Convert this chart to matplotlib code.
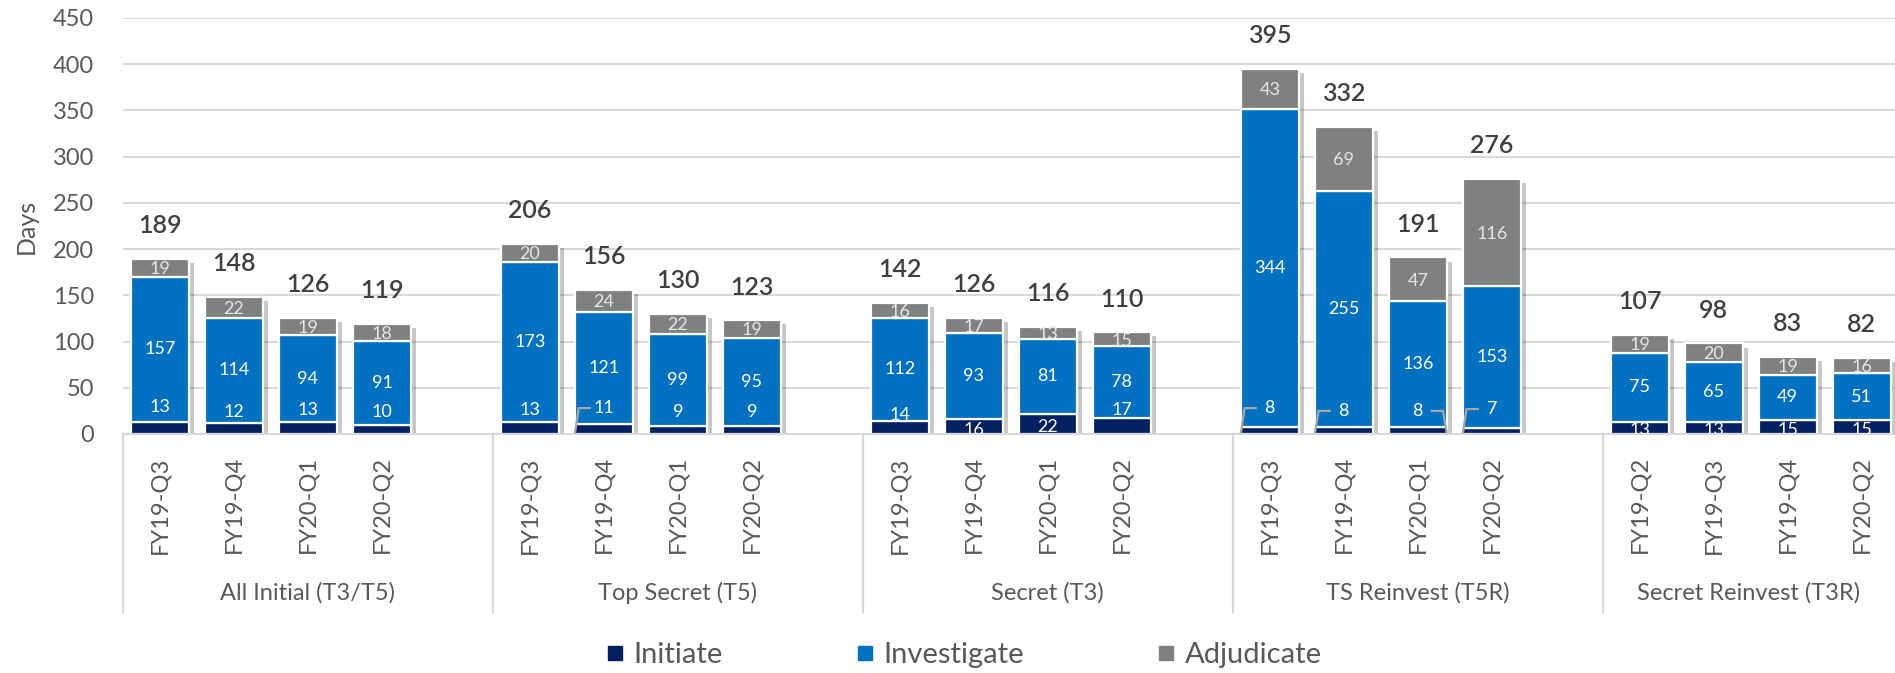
import matplotlib
matplotlib.use('Agg')
import matplotlib.pyplot as plt
import matplotlib.patheffects as pe
from matplotlib.lines import Line2D
from matplotlib.transforms import blended_transform_factory

# ---------------- data ----------------
groups = ['All Initial (T3/T5)', 'Top Secret (T5)', 'Secret (T3)',
          'TS Reinvest (T5R)', 'Secret Reinvest (T3R)']
quarters = [
    ['FY19-Q3', 'FY19-Q4', 'FY20-Q1', 'FY20-Q2'],
    ['FY19-Q3', 'FY19-Q4', 'FY20-Q1', 'FY20-Q2'],
    ['FY19-Q3', 'FY19-Q4', 'FY20-Q1', 'FY20-Q2'],
    ['FY19-Q3', 'FY19-Q4', 'FY20-Q1', 'FY20-Q2'],
    ['FY19-Q2', 'FY19-Q3', 'FY19-Q4', 'FY20-Q2'],
]
initiate = [13, 12, 13, 10, 13, 11, 9, 9, 14, 16, 22, 17, 8, 8, 8, 7, 13, 13, 15, 15]
investigate = [157, 114, 94, 91, 173, 121, 99, 95, 112, 93, 81, 78,
               344, 255, 136, 153, 75, 65, 49, 51]
adjudicate = [19, 22, 19, 18, 20, 24, 22, 19, 16, 17, 13, 15,
              43, 69, 47, 116, 19, 20, 19, 16]
totals = [189, 148, 126, 119, 206, 156, 130, 123, 142, 126, 116, 110,
          395, 332, 191, 276, 107, 98, 83, 82]
series_names = ['Initiate', 'Investigate', 'Adjudicate']

# ---------------- layout / style ----------------
C_INIT, C_INV, C_ADJ = '#002060', '#0070C0', '#808080'
GRID = '#d9d9d9'
TXT = '#595959'
FONT = 'Lato'
# vertical placement (in days) of the Initiate value labels (moved by hand in the original)
init_label_y = [29, 24, 26, 24, 26, 28, 24, 24, 21, 4, 8, 26, 28, 25, 25, 27, 4, 4, 4, 4]
# leader lines: bar index -> side of bar
leaders = {5: 'left', 12: 'left', 13: 'left', 14: 'right', 15: 'left'}

plt.rcParams['font.family'] = [FONT, 'DejaVu Sans']

fig = plt.figure(figsize=(18.95, 6.73), dpi=100)
ax = fig.add_axes([123 / 1895, (673 - 434) / 673, (1895 - 123) / 1895, 416 / 673])

xs = []
for g in range(len(groups)):
    for j in range(len(quarters[g])):
        xs.append(g * 5 + j)

W = 0.78
bottom2 = [a + b for a, b in zip(initiate, investigate)]

# shadow bars
ax.bar(xs, totals, width=W, color='white', edgecolor='none', zorder=1.5,
       path_effects=[pe.SimplePatchShadow(offset=(4, -3), shadow_rgbFace='black', alpha=0.22),
                     pe.Normal()])
ax.bar(xs, initiate, width=W, color=C_INIT, edgecolor='white', linewidth=1.6, zorder=2)
ax.bar(xs, investigate, width=W, bottom=initiate, color=C_INV, edgecolor='white',
       linewidth=1.6, zorder=2)
ax.bar(xs, adjudicate, width=W, bottom=bottom2, color=C_ADJ, edgecolor='white',
       linewidth=1.6, zorder=2)

for i, x in enumerate(xs):
    ax.text(x, initiate[i] + investigate[i] / 2, str(investigate[i]), ha='center', va='center',
            fontsize=13, color='white', zorder=5)
    ax.text(x, bottom2[i] + adjudicate[i] / 2 - 1.5, str(adjudicate[i]), ha='center', va='center',
            fontsize=13, color='#e6e6e6', zorder=5)
    ax.text(x, init_label_y[i], str(initiate[i]), ha='center', va='center',
            fontsize=13, color='white', zorder=5, clip_on=True)
    ax.text(x, totals[i] + 36, str(totals[i]), ha='center', va='center',
            fontsize=18, color='#404040', fontweight='semibold', zorder=5)
    if i in leaders:
        ly = init_label_y[i]
        if leaders[i] == 'left':
            xl = x - W / 2
            ax.plot([xl, xl + 0.05, xl + 0.2], [2, ly, ly], color='#a6a6a6', lw=1.6,
                    zorder=6, solid_joinstyle='miter')
        else:
            xr = x + W / 2
            ax.plot([xr, xr - 0.05, xr - 0.2], [2, ly, ly], color='#a6a6a6', lw=1.6,
                    zorder=6, solid_joinstyle='miter')

ax.set_ylim(0, 450)
ax.set_xlim(-0.5, 23.45)
ax.set_yticks(range(0, 451, 50))
ax.yaxis.grid(True, color=GRID, lw=1.5)
ax.set_axisbelow(True)
for s in ['top', 'right', 'left']:
    ax.spines[s].set_visible(False)
ax.spines['bottom'].set_color(GRID)
ax.spines['bottom'].set_linewidth(1.5)
ax.tick_params(axis='y', length=0, pad=21, labelsize=17, labelcolor=TXT)
fig.text(26 / 1895, 1 - 226 / 673, 'Days', rotation=90, ha='center', va='center',
         fontsize=18, color=TXT)

tick_labels = [q for g in range(len(groups)) for q in quarters[g]]
ax.set_xticks(xs)
ax.set_xticklabels(tick_labels, rotation=90, fontsize=17, color=TXT)
ax.tick_params(axis='x', length=0, pad=16)

trans = blended_transform_factory(ax.transData, ax.transAxes)
xmax = ax.get_xlim()[1]
for g in range(len(groups) + 1):
    xb = g * 5 - 0.5
    ax.plot([xb, xb], [0, -0.428], transform=trans, color=GRID, lw=1.6, clip_on=False)
for g, name in enumerate(groups):
    left = g * 5 - 0.5
    right = min(g * 5 + 4.5, xmax)
    ax.text((left + right) / 2, -0.382, name, transform=trans, ha='center', va='center',
            fontsize=17, color=TXT)

handles = [Line2D([], [], marker='s', color=c, ls='none', markersize=10)
           for c in (C_INIT, C_INV, C_ADJ)]
fig.legend(handles, series_names, loc='center', bbox_to_anchor=(0.509, 0.027),
           ncol=3, frameon=False, columnspacing=4.6, handletextpad=0.4,
           fontsize=21, labelcolor=TXT, handlelength=0.5, borderpad=0, borderaxespad=0)

fig.savefig('out.png', dpi=100)
